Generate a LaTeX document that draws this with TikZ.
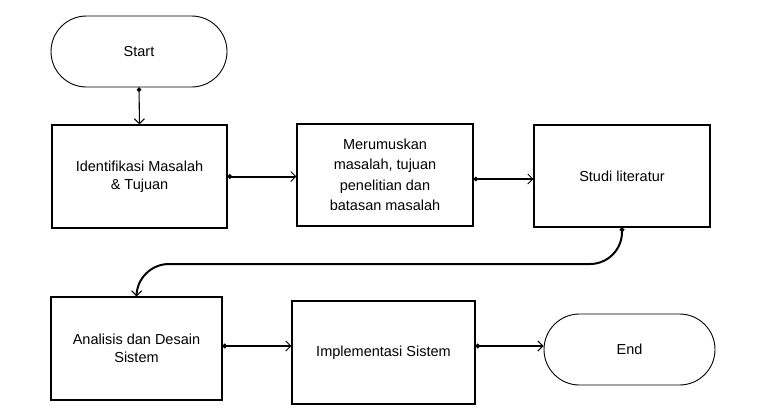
\documentclass[tikz,border=0pt]{standalone}
\usepackage{fontspec}
\setmainfont{Liberation Sans}
\usetikzlibrary{arrows.meta,shapes.misc}
\begin{document}
\begin{tikzpicture}[x=1pt,y=-1pt,
  every node/.style={font=\fontsize{14.5}{18}\selectfont, align=center},
  proc/.style={draw, line width=1.1pt, rectangle, inner sep=0pt},
  term/.style={draw, line width=0.9pt, rounded rectangle, inner sep=0pt},
  conn/.style={line width=1.1pt, {Circle[length=4.5pt]}-{Straight Barb[length=5pt,width=10pt,line width=1pt]}},
  thick conn/.style={conn, line width=2pt},
]
\useasboundingbox (0,0) rectangle (762,418);
\node[term, minimum width=176pt, minimum height=71pt] (start) at (139,51.5) {Start};
\node[proc, minimum width=175pt, minimum height=103pt] (b1) at (139.5,176.5) {Identifikasi Masalah\\\& Tujuan};
\node[proc, minimum width=176pt, minimum height=102pt, font=\fontsize{14.5}{20.5}\selectfont] (b2) at (385,175) {Merumuskan\\masalah, tujuan\\penelitian dan\\batasan masalah};
\node[proc, minimum width=176pt, minimum height=102pt] (b3) at (622,176) {Studi literatur};
\node[proc, minimum width=171pt, minimum height=103pt] (b4) at (136.5,348.5) {Analisis dan Desain\\Sistem};
\node[proc, minimum width=183pt, minimum height=103pt] (b5) at (383.5,352.5) {Implementasi Sistem};
\node[term, minimum width=171pt, minimum height=71pt] (end) at (629.5,349.5) {End};
\coordinate (c) at (137,264);
\draw[conn] (start.south) -- (b1.north);
\draw[thick conn] (b1.east) -- (b2.west |- b1.east);
\draw[conn] (b2.east |- 0,179) -- (b3.west |- 0,179);
\draw[thick conn, rounded corners=32pt] (b3.south) |- (c) -- (b4.north);
\draw[thick conn] (b4.east |- 0,346) -- (b5.west |- 0,346);
\draw[thick conn] (b5.east |- 0,346) -- (end.west |- 0,346);
\end{tikzpicture}
\end{document}
